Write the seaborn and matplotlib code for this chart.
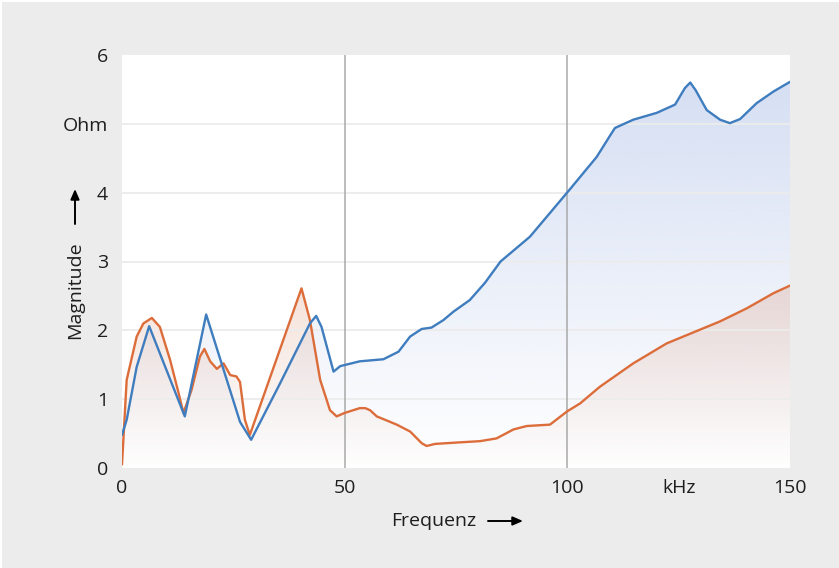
import numpy as np
import pandas as pd
import matplotlib
matplotlib.use("Agg")
import matplotlib.pyplot as plt
from matplotlib.colors import to_rgb
from matplotlib.patches import Rectangle, FancyArrowPatch
import seaborn as sns

# Blue curve: frequency in kHz, magnitude in Ohm
blue_khz = [0, 1.05, 3.3, 6.1, 14.1, 18.9, 26.5, 29.0, 35.5, 42.2, 43.6, 44.8, 47.5,
            49.0, 53.4, 58.7, 62.1, 64.7, 67.3, 69.5, 72.2, 74.4, 78.1, 81.5, 85.0,
            91.6, 100.2, 106.6, 109.7, 110.7, 114.8, 120.1, 124.2, 126.4, 127.6,
            128.8, 131.3, 134.3, 136.5, 138.8, 142.5, 146.3, 150]
blue_ohm = [0.48, 0.70, 1.47, 2.06, 0.75, 2.23, 0.67, 0.41, 1.23, 2.10, 2.21, 2.05, 1.40,
            1.48, 1.55, 1.58, 1.69, 1.91, 2.02, 2.04, 2.15, 2.27, 2.44, 2.69, 3.00,
            3.36, 4.02, 4.52, 4.84, 4.94, 5.06, 5.16, 5.28, 5.52, 5.60,
            5.49, 5.20, 5.06, 5.01, 5.07, 5.30, 5.47, 5.61]

# Orange curve
orange_khz = [0, 1.05, 3.3, 4.8, 6.7, 8.5, 10.8, 12.7, 13.8, 15.6, 17.5, 18.5, 19.8,
              21.3, 22.8, 24.3, 25.7, 26.5, 27.6, 28.7, 40.3, 42.2, 44.5, 46.7, 48.2,
              50.0, 53.4, 54.6, 55.7, 57.2, 61.7, 64.7, 67.3, 68.4, 70.3, 75.2, 80.4,
              84.1, 87.9, 90.9, 96.1, 99.9, 102.9, 107.3, 114.8, 122.3, 128.3, 134.3,
              140.3, 146.3, 150]
orange_ohm = [0.05, 1.28, 1.91, 2.10, 2.18, 2.05, 1.57, 1.09, 0.80, 1.13, 1.62, 1.73, 1.55,
              1.44, 1.52, 1.35, 1.33, 1.25, 0.70, 0.48, 2.61, 2.15, 1.28, 0.84, 0.75,
              0.80, 0.87, 0.87, 0.84, 0.75, 0.63, 0.53, 0.36, 0.32, 0.35, 0.37, 0.39,
              0.43, 0.56, 0.61, 0.63, 0.82, 0.94, 1.18, 1.52, 1.81, 1.97, 2.13,
              2.32, 2.54, 2.65]

x_ticks = [0, 50, 100, 125, 150]
x_ticklabels = ["0", "50", "100", "kHz", "150"]
y_ticks = [0, 1, 2, 3, 4, 5, 6]
y_ticklabels = ["0", "1", "2", "3", "4", "Ohm", "6"]

blue = "#3f7dbf"
orange = "#dc6d3a"

df = pd.concat([
    pd.DataFrame({"f": blue_khz, "z": blue_ohm, "series": "blue"}),
    pd.DataFrame({"f": orange_khz, "z": orange_ohm, "series": "orange"}),
])

sns.set_style("white")
plt.rcParams["font.family"] = ["Open Sans", "DejaVu Sans"]

fig = plt.figure(figsize=(8.39, 5.68), dpi=100, facecolor="white")
fig.patches.append(Rectangle((2 / 839, 0), 1, 1 - 2 / 568, transform=fig.transFigure,
                             facecolor="#ececec", edgecolor="none", zorder=-10))
ax = fig.add_axes([122 / 839, 1 - 468 / 568, 668 / 839, 413 / 568])
ax.set_facecolor("white")
ax.set_xlim(0, 150)
ax.set_ylim(0, 6)


def gradient_fill(x, y, color, alpha_top, z):
    poly = ax.fill_between(x, y, 0, color="none", lw=0)
    grad = np.zeros((256, 1, 4))
    grad[:, :, :3] = to_rgb(color)
    grad[:, 0, 3] = np.linspace(0, alpha_top, 256)
    im = ax.imshow(grad, aspect="auto", extent=[0, 150, 0, 6], origin="lower", zorder=z)
    im.set_clip_path(poly.get_paths()[0], transform=ax.transData)


gradient_fill(blue_khz, blue_ohm, "#a7bbe6", 0.50, 1)
gradient_fill(orange_khz, orange_ohm, "#d99070", 0.60, 1.5)

# grid
for yv in [1, 2, 3, 4, 5]:
    ax.axhline(yv, color="#ececec", lw=1.3, zorder=2)
for xv in [50, 100]:
    ax.axvline(xv, color="#a9a9a9", lw=1.1, zorder=2.5)

sns.lineplot(data=df, x="f", y="z", hue="series", palette={"blue": blue, "orange": orange},
             hue_order=["orange", "blue"], lw=1.7, legend=False, ax=ax, zorder=3,
             solid_joinstyle="round")

ax.set_xticks(x_ticks)
ax.set_xticklabels(x_ticklabels)
ax.set_yticks(y_ticks)
ax.set_yticklabels(y_ticklabels)
ax.tick_params(axis="both", length=0, labelsize=14, colors="#1e1e1e")
ax.tick_params(axis="y", pad=10)
ax.tick_params(axis="x", pad=8)
for s in ax.spines.values():
    s.set_visible(False)
ax.set_xlabel("")
ax.set_ylabel("")

# axis titles with arrows
fig.text(434 / 839, 1 - 521 / 568, "Frequenz", ha="center", va="center",
         fontsize=14, color="#1e1e1e")
fig.text(75 / 839, 1 - 290 / 568, "Magnitude", ha="center", va="center",
         rotation=90, fontsize=14, color="#1e1e1e")
for tail, head in [((488, 521), (523, 521)), ((75, 224), (75, 189))]:
    fig.patches.append(FancyArrowPatch(
        (tail[0] / 839, 1 - tail[1] / 568), (head[0] / 839, 1 - head[1] / 568),
        transform=fig.transFigure, shrinkA=0, shrinkB=0,
        arrowstyle="-|>,head_length=6,head_width=2.6", color="black", lw=1.4))

fig.savefig("out.png", dpi=100, facecolor=fig.get_facecolor())
